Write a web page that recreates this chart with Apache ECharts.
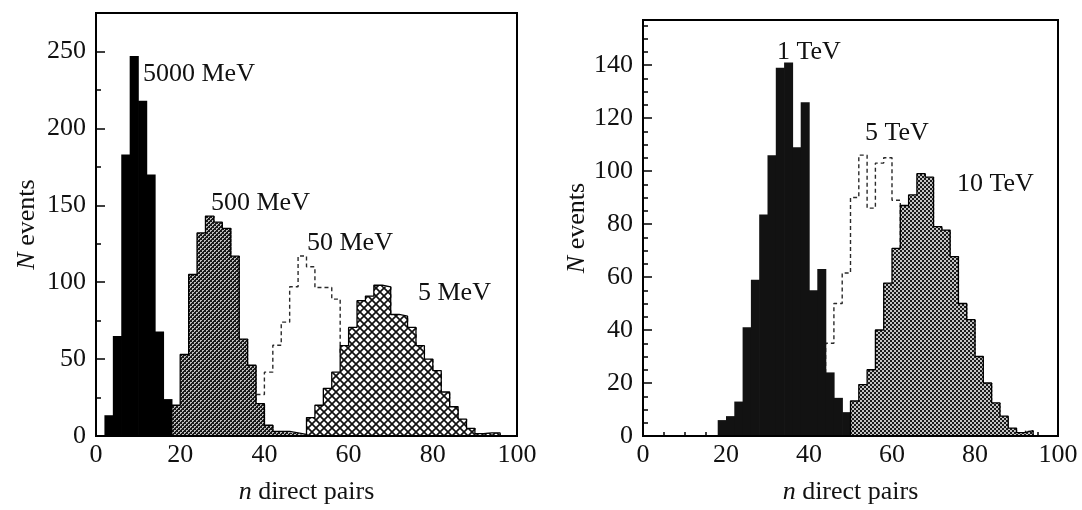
<!DOCTYPE html>
<html>
<head>
<meta charset="utf-8">
<script src="https://cdn.jsdelivr.net/npm/echarts@6/dist/echarts.min.js"></script>
<style>
  html, body { margin: 0; padding: 0; background: #fff; }
  #chart { width: 1082px; height: 510px; }
</style>
</head>
<body>
<div id="chart"></div>
<script>
// every histogram uses bins 2 pairs wide; *Start = left edge of the first bin
var binWidth = 2;

// left panel: photon energies in MeV
var mev5000Start = 2;
var mev5000 = [13.5, 65, 183, 247, 218, 170, 68, 24];
var mev500Start = 18;
var mev500 = [20, 53, 105, 132, 143, 139, 135, 117, 63, 46, 21, 7, 3, 3, 2, 1];
var mev50Start = 38;
var mev50 = [27, 41.5, 59, 74, 97, 117, 110, 96.5, 96.5, 89, 52, 36, 22, 12, 5];
var mev5Start = 50;
var mev5 = [12, 20, 31, 41.5, 58.7, 70.6, 88, 91, 98, 97, 79, 78, 70.6, 58.7, 50, 42.5, 28.6, 19, 11, 5, 1.6, 2, 2];

// right panel: TeV
var tev1Start = 18;
var tev1 = [6, 7.5, 13, 41, 59, 83.6, 106, 139, 141, 109, 126, 55, 63, 24, 14.4, 9];
var tev5Start = 44;
var tev5 = [35, 50, 61.5, 90, 106, 86, 103, 105, 89, 70, 52, 35, 20, 8];
var tev10Start = 50;
var tev10 = [13.2, 19.4, 25, 40, 57.7, 70.8, 87, 91, 99, 97.7, 79, 77.7, 67.7, 50, 43.9, 30, 20, 12.5, 7.5, 3, 1.3, 2];

var leftLabels = ['5000 MeV', '500 MeV', '50 MeV', '5 MeV'];
var rightLabels = ['1 TeV', '5 TeV', '10 TeV'];

var FONT = 'Liberation Serif';
var INK = '#111';

function toBins(start, vals) {
  return vals.map(function (v, i) {
    return [start + i * binWidth, start + (i + 1) * binWidth, v];
  });
}
function toSteps(start, vals) {
  var pts = [[start, 0]];
  vals.forEach(function (v, i) { pts.push([start + i * binWidth, v]); });
  pts.push([start + vals.length * binWidth, 0]);
  return pts;
}

// fill patterns
function checker(dark, light, big) {
  var c = document.createElement('canvas');
  c.width = c.height = 4;
  var g = c.getContext('2d');
  g.fillStyle = dark;
  g.fillRect(0, 0, 4, 4);
  g.fillStyle = light;
  if (big) {
    g.fillRect(0, 0, 2, 2);
    g.fillRect(2, 2, 2, 2);
  } else {
    g.fillRect(0, 0, 2, 1); g.fillRect(0, 1, 1, 1);
    g.fillRect(2, 2, 2, 1); g.fillRect(2, 3, 1, 1);
  }
  return { image: c, repeat: 'repeat' };
}
function crossHatch() {
  var c = document.createElement('canvas');
  c.width = c.height = 8;
  var g = c.getContext('2d');
  g.fillStyle = '#fff';
  g.fillRect(0, 0, 8, 8);
  g.strokeStyle = '#111';
  g.lineWidth = 1.7;
  g.beginPath();
  g.moveTo(-1, -1); g.lineTo(9, 9);
  g.moveTo(9, -1); g.lineTo(-1, 9);
  g.stroke();
  return { image: c, repeat: 'repeat' };
}

function histSeries(grid, start, vals, fill, z) {
  return {
    type: 'custom',
    xAxisIndex: grid * 2, yAxisIndex: grid * 2,
    z: z,
    silent: true,
    encode: { x: [0, 1], y: 2 },
    data: toBins(start, vals),
    renderItem: function (params, api) {
      var a = api.coord([api.value(0), api.value(2)]);
      var b = api.coord([api.value(1), 0]);
      return {
        type: 'rect',
        shape: { x: a[0], y: a[1], width: b[0] - a[0] + 0.7, height: b[1] - a[1] },
        style: { fill: fill }
      };
    }
  };
}
function stepSeries(grid, start, vals, style, z) {
  return {
    type: 'line',
    xAxisIndex: grid * 2, yAxisIndex: grid * 2,
    z: z,
    step: 'end',
    symbol: 'none',
    silent: true,
    lineStyle: style,
    data: toSteps(start, vals)
  };
}

var nameStyle = {
  fontSize: 26, fontFamily: FONT, color: INK,
  rich: { i: { fontSize: 26, fontFamily: FONT, color: INK, fontStyle: 'italic' } }
};
var labelStyle = { fontSize: 26, fontFamily: FONT, color: INK };
var tickLine = { color: '#000', width: 1.5 };

function xAxes(grid, withTicks) {
  return [{
    gridIndex: grid, type: 'value', min: 0, max: 100, interval: 20, position: 'bottom',
    axisLine: { show: false }, splitLine: { show: false },
    axisTick: { show: withTicks, inside: true, length: 6, lineStyle: tickLine },
    axisLabel: Object.assign({ margin: 6 }, labelStyle),
    name: '{i|n} direct pairs', nameLocation: 'middle', nameGap: 43, nameTextStyle: nameStyle
  }, {
    gridIndex: grid, type: 'value', min: 0, max: 100, interval: 5, position: 'bottom',
    axisLine: { show: false }, splitLine: { show: false }, axisLabel: { show: false },
    axisTick: { show: withTicks, inside: true, length: 4, lineStyle: tickLine }
  }];
}
function yAxes(grid, max, step, minor, nameGap) {
  return [{
    gridIndex: grid, type: 'value', min: 0, max: max, interval: step, position: 'left',
    axisLine: { show: false }, splitLine: { show: false },
    axisTick: { show: true, inside: true, length: 9, lineStyle: tickLine },
    axisLabel: Object.assign({
      margin: 10,
      formatter: function (v) { return v % step === 0 ? String(v) : ''; }
    }, labelStyle),
    name: '{i|N} events', nameLocation: 'middle', nameGap: nameGap, nameTextStyle: nameStyle
  }, {
    gridIndex: grid, type: 'value', min: 0, max: max, interval: minor, position: 'left',
    axisLine: { show: false }, splitLine: { show: false }, axisLabel: { show: false },
    axisTick: { show: true, inside: true, length: 5, lineStyle: tickLine }
  }];
}

function tag(text, x, y) {
  return {
    type: 'text', x: x, y: y, z: 20,
    style: { text: text, fontSize: 26, fontFamily: FONT, fill: INK, verticalAlign: 'middle' }
  };
}

var solid = { color: '#000', width: 1.3 };
var dashed = { color: '#2a2a2a', width: 1.4, type: [4, 3] };

var chart = echarts.init(document.getElementById('chart'), null, { renderer: 'canvas' });
chart.setOption({
  animation: false,
  backgroundColor: '#fff',
  grid: [
    { left: 96, top: 13, width: 421, height: 424.5, show: true, borderColor: '#000', borderWidth: 2, z: 10 },
    { left: 643, top: 20, width: 415, height: 417, show: true, borderColor: '#000', borderWidth: 2, z: 10 }
  ],
  xAxis: xAxes(0, false).concat(xAxes(1, true)),
  yAxis: yAxes(0, 275, 50, 25, 56).concat(yAxes(1, 157, 20, 5, 52)),
  series: [
    stepSeries(0, mev50Start, mev50, dashed, 1),
    histSeries(0, mev5000Start, mev5000, '#000', 2),
    histSeries(0, mev500Start, mev500, checker('#1a1a1a', '#bdbdbd', false), 3),
    stepSeries(0, mev500Start, mev500, solid, 3),
    histSeries(0, mev5Start, mev5, crossHatch(), 4),
    stepSeries(0, mev5Start, mev5, solid, 4),

    stepSeries(1, tev5Start, tev5, dashed, 1),
    histSeries(1, tev1Start, tev1, '#121212', 2),
    histSeries(1, tev10Start, tev10, checker('#1a1a1a', '#c4c4c4', true), 3),
    stepSeries(1, tev10Start, tev10, solid, 3)
  ],
  graphic: [
    tag(leftLabels[0], 143, 74),
    tag(leftLabels[1], 211, 203),
    tag(leftLabels[2], 307, 243),
    tag(leftLabels[3], 418, 293),
    tag(rightLabels[0], 777, 52),
    tag(rightLabels[1], 865, 133),
    tag(rightLabels[2], 957, 184)
  ]
});
</script>
</body>
</html>
